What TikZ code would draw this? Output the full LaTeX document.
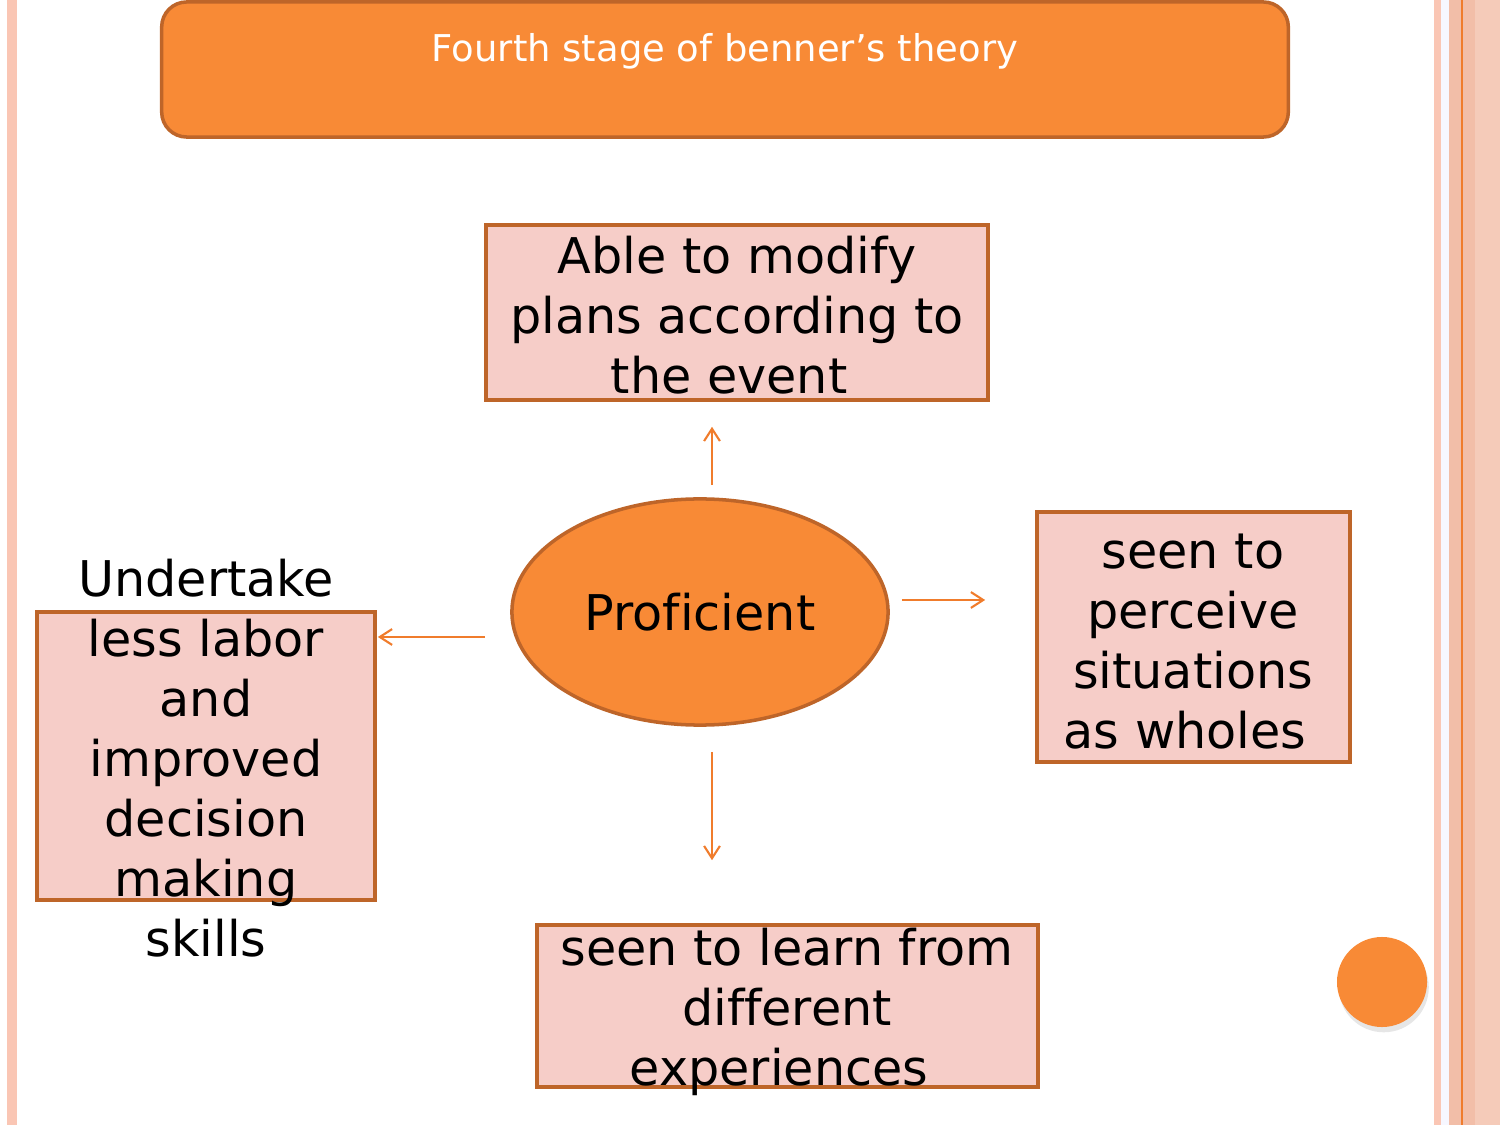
\documentclass[tikz,border=0pt]{standalone}
\usepackage{fontspec}
\setmainfont{DejaVu Sans}[Ligatures=NoCommon]
\usetikzlibrary{arrows.meta, positioning, shapes.geometric, calc, shadows}
\definecolor{orfill}{HTML}{F88A36}
\definecolor{ordraw}{HTML}{BE6529}
\definecolor{pinkfill}{HTML}{F6CDC8}
\definecolor{arrcol}{HTML}{F07C2C}
\definecolor{stripe}{HTML}{F2BEA8}
\definecolor{stripelt}{HTML}{FAC6B4}

\begin{document}
\begin{tikzpicture}[x=0.01cm, y=-0.01cm, every node/.style={font=\fontsize{14}{17.07}\selectfont},
    box/.style={rectangle, draw=ordraw, line width=1pt, fill=pinkfill, inner sep=0pt},
    txt/.style={align=center, inner sep=0pt},
    arr/.style={draw=arrcol, line width=0.6pt, -{Straight Barb[length=3.5pt, width=4.5pt]}}]
    \useasboundingbox (0,0) rectangle (1500,1125);
    % page stripes
    \fill[stripelt] (7,0) rectangle (17,1125);
    \fill[stripelt] (1434,0) rectangle (1441,1125);
    \fill[blue!3] (1441,0) rectangle (1449,1125);
    \fill[stripe] (1449,0) rectangle (1500,1125);
    \fill[stripe!80] (1475,0) rectangle (1500,1125);
    \draw[arrcol, line width=0.6pt] (1462,0) -- (1462,1125);

    \node[rectangle, rounded corners=0.25cm, draw=ordraw, line width=1pt, fill=orfill,
        minimum width=11.26cm, minimum height=1.35cm] (title) at (725,69.5) {};
    \node[text=white, font=\fontsize{10.5}{12}\selectfont] (titletxt) at (725,51) {Fourth stage of benner’s theory};

    \node[ellipse, draw=ordraw, line width=1pt, fill=orfill, minimum width=3.76cm, minimum height=2.26cm] (prof) at (700,612) {Proficient};

    \node[box, minimum width=5.02cm, minimum height=1.75cm] (modify) at (737,312.5) {};
    \node[txt] (modifytxt) at (737,315) {Able to modify\\plans according to\\the event\kern0.32em};

    \node[box, minimum width=3.13cm, minimum height=2.5cm] (whole) at (1193.5,637) {};
    \node[txt] (wholetxt) at (1193,642) {seen to\\perceive\\situations\\as wholes\kern0.32em};

    \node[box, minimum width=3.38cm, minimum height=2.88cm] (labor) at (206,756) {};
    \node[txt] (labortxt) at (206,758) {Undertake\\less labor\\and\\improved\\decision\\making\\skills};

    \node[box, minimum width=5.01cm, minimum height=1.62cm] (learn) at (787.5,1006) {};
    \node[txt] (learntxt) at (787,1012) {seen to learn from\\different\\experiences\kern0.32em};

    \draw[arr] ($(prof.north)+(12,-12)$) -- ($(modify.south)+(-25,25)$);
    \draw[arr] ($(prof.east)+(12,-12)$) -- ($(whole.west)+(-50,-37)$);
    \draw[arr] ($(prof.west)+(-25,25)$) -- ($(labor.east)+(1,-119)$);
    \draw[arr] ($(prof.south)+(12,25)$) -- ($(learn.north)+(-75.5,-63)$);

    \node[circle, fill=orfill, minimum size=0.9cm, inner sep=0pt,
        drop shadow={opacity=0.2, shadow xshift=0.5pt, shadow yshift=-1.5pt}] (dot) at (1382,982) {};
\end{tikzpicture}
\end{document}
